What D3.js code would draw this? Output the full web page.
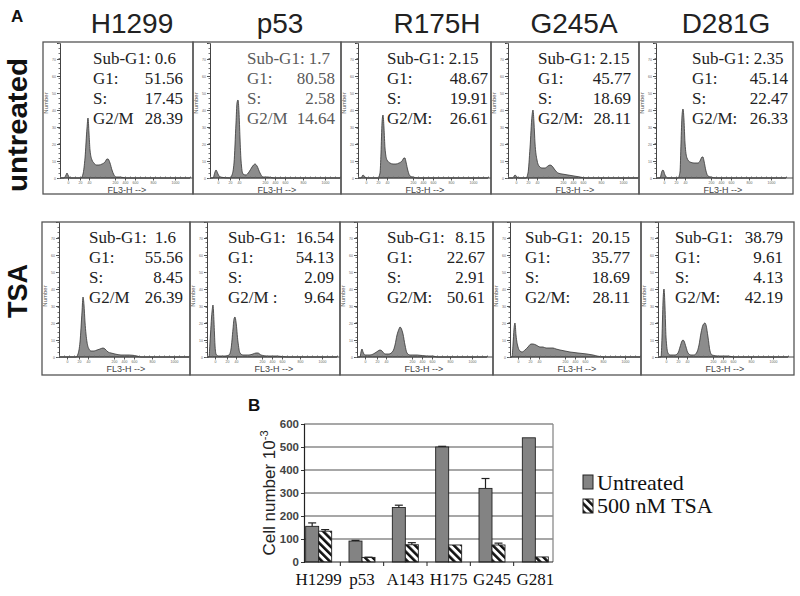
<!DOCTYPE html>
<html><head><meta charset="utf-8">
<script src="https://cdn.jsdelivr.net/npm/d3@7"></script>
<style>body{margin:0;background:#fff} svg{display:block}</style>
</head><body>
<svg id="c" width="800" height="596"></svg>
<script>
// ---------- DATA ----------
const cellLines = ["H1299","p53","R175H","G245A","D281G"];
const subG1Untreated = ["0.6","1.7","2.15","2.15","2.35"];
const g1Untreated = ["51.56","80.58","48.67","45.77","45.14"];
const sUntreated = ["17.45","2.58","19.91","18.69","22.47"];
const g2mUntreated = ["28.39","14.64","26.61","28.11","26.33"];
const g2mLabelsUntreated = ["G2/M","G2/M","G2/M:","G2/M:","G2/M:"];
const subG1TSA = ["1.6","16.54","8.15","20.15","38.79"];
const g1TSA = ["55.56","54.13","22.67","35.77","9.61"];
const sTSA = ["8.45","2.09","2.91","18.69","4.13"];
const g2mTSA = ["26.39","9.64","50.61","28.11","42.19"];
const g2mLabelsTSA = ["G2/M","G2/M :","G2/M:","G2/M:","G2/M:"];

// DNA histograms: [FL3-H channel, count]
const histH1299Untreated = [[0,0],[4,0],[6,3],[7,5],[8,3],[10,0],[21,0],[23,4],[25,20],[27,50],[28,60],[29,45],[30,28],[32,18],[34,15],[36,13],[39,13],[42,14],[45,16],[47,19],[48,19],[50,15],[52,8],[54,3],[56,1],[60,1],[66,0],[130,0]];
const histP53Untreated = [[0,0],[3,0],[5,6],[6,8],[8,4],[10,1],[20,0],[22,3],[24,15],[26,55],[27,75],[28,78],[29,66],[30,40],[31,18],[33,4],[36,3],[39,6],[42,11],[45,14],[47,12],[50,5],[53,1],[58,1],[64,0],[130,0]];
const histR175HUntreated = [[0,0],[3,0],[5,3],[7,1],[9,0],[20,0],[22,5],[23,25],[24,55],[25,63],[26,50],[27,30],[29,18],[32,15],[35,14],[38,14],[41,15],[44,17],[46,20],[47,20],[48,16],[50,7],[52,2],[55,1],[60,0],[130,0]];
const histG245AUntreated = [[0,0],[5,0],[7,3],[9,1],[11,0],[18,0],[20,5],[22,30],[24,62],[25,68],[26,55],[27,35],[29,18],[31,12],[34,10],[37,10],[40,12],[42,13],[44,12],[47,8],[50,5],[54,4],[60,3],[66,2],[72,1],[78,0],[130,0]];
const histD281GUntreated = [[0,0],[4,0],[6,7],[7,8],[9,3],[11,0],[22,0],[24,6],[25,35],[26,62],[27,69],[28,58],[29,35],[31,20],[34,16],[38,15],[42,15],[44,17],[46,21],[47,21],[48,17],[50,7],[52,2],[55,1],[60,0],[130,0]];
const histH1299TSA = [[0,0],[17,0],[19,3],[21,15],[23,45],[24,60],[25,52],[26,35],[28,15],[30,8],[32,6],[35,6],[38,7],[41,8],[44,9],[46,8],[49,5],[52,4],[56,3],[62,2],[70,2],[78,1],[82,0],[130,0]];
const histP53TSA = [[0,0],[2,0],[3,15],[5,45],[6,52],[7,35],[8,12],[9,3],[11,1],[18,1],[22,2],[24,8],[26,28],[27,38],[28,40],[29,35],[31,15],[33,4],[36,2],[42,2],[46,3],[49,4],[51,4],[54,2],[60,1],[70,1],[80,0],[130,0]];
const histR175HTSA = [[0,0],[3,0],[4,5],[5,8],[6,5],[8,2],[13,2],[18,4],[21,6],[23,7],[25,6],[28,3],[32,3],[36,6],[38,12],[40,22],[42,28],[43,30],[44,29],[46,23],[48,12],[50,4],[53,2],[60,2],[70,1],[76,1],[80,0],[130,0]];
const histG245ATSA = [[0,0],[2,0],[3,12],[4,28],[5,34],[6,22],[8,10],[10,6],[12,5],[15,7],[18,10],[21,13],[23,13],[26,12],[30,10],[33,10],[36,9],[40,9],[43,9],[46,8],[50,7],[55,6],[60,5],[68,4],[77,3],[83,2],[87,1],[95,0],[130,0]];
const histD281GTSA = [[0,0],[3,0],[4,20],[5,55],[6,68],[7,50],[8,20],[10,4],[12,2],[17,2],[20,4],[22,10],[24,16],[25,17],[26,16],[28,10],[30,4],[33,2],[36,2],[39,5],[41,12],[43,24],[45,32],[47,34],[48,32],[50,20],[52,6],[54,2],[60,1],[70,1],[76,0],[130,0]];

const histYTickVals = [0,17,34,51,68,85,102,119];
const histYTickLabels = ["0","10","20","30","40","50","60","70"];
const histXTickVals = [8,20,29,55,65,75,93,115];
const histXTickLabels = ["0","20","40","200","400","600","800","1000"];

// Panel B
const barCategories = ["H1299","p53","A143","H175","G245","G281"];
const untreatedCells = [155,91,237,500,320,540];
const untreatedErr = [15,3,10,3,43,0];
const tsaCells = [134,20,75,74,74,22];
const tsaErr = [7,1,9,0,8,0];
const yTicksB = [0,100,200,300,400,500,600];
const seriesNames = ["Untreated","500 nM TSA"];

// ---------- LAYOUT ----------
const svg = d3.select("#c");
const serif = "Liberation Serif, Times New Roman, DejaVu Serif, serif";
const sans = "Liberation Sans, Arial, sans-serif";

const rowsLayout = [
  {top:42, bottom:194, base:178, lefts:[43,193,341,491,639,793], textY:[64,84,104,124],
   labelX:[93,247,387,538,692], valueR:[183,335,488,631,788], numberY:103},
  {top:222, bottom:375, base:357, lefts:[42,190,340,493,641,794], textY:[243,263,283,303],
   labelX:[89,228,387,525,675], valueR:[183,334,485,630,783], subR:[176,334,485,630,783], numberY:296}
];
const rowsData = [
  {label:"untreated", subG1:subG1Untreated, g1:g1Untreated, s:sUntreated, g2m:g2mUntreated, g2mLab:g2mLabelsUntreated,
   hist:[histH1299Untreated,histP53Untreated,histR175HUntreated,histG245AUntreated,histD281GUntreated]},
  {label:"TSA", subG1:subG1TSA, g1:g1TSA, s:sTSA, g2m:g2mTSA, g2mLab:g2mLabelsTSA,
   hist:[histH1299TSA,histP53TSA,histR175HTSA,histG245ATSA,histD281GTSA]}
];
const titleCenters = [132,280,437,574,726];

// letters
svg.append("text").attr("x",11).attr("y",22).attr("font-family",sans).attr("font-weight","bold")
  .attr("font-size",17).attr("fill","#111").text("A");
svg.append("text").attr("x",248).attr("y",411).attr("font-family",sans).attr("font-weight","bold")
  .attr("font-size",17).attr("fill","#111").text("B");

// titles
cellLines.forEach((c,i)=>{
  svg.append("text").attr("x",titleCenters[i]).attr("y",33).attr("text-anchor","middle")
    .attr("font-family",sans).attr("font-size",28).attr("fill","#222").text(c);
});

// row labels
svg.append("text").attr("transform","translate(27,125) rotate(-90)").attr("text-anchor","middle")
  .attr("font-family",sans).attr("font-weight","bold").attr("font-size",27).attr("fill","#111")
  .attr("textLength",134).attr("lengthAdjust","spacingAndGlyphs").text(rowsData[0].label);
svg.append("text").attr("transform","translate(27,291) rotate(-90)").attr("text-anchor","middle")
  .attr("font-family",sans).attr("font-weight","bold").attr("font-size",27).attr("fill","#111").text(rowsData[1].label);

rowsData.forEach((row,ri)=>{
  const L = rowsLayout[ri];
  cellLines.forEach((cl,pi)=>{
    const left = L.lefts[pi], right = L.lefts[pi+1];
    const pl = left+17;
    const g = svg.append("g");
    const x = d3.scaleLinear().domain([0,130]).range([pl,pl+130]);
    const y = d3.scaleLinear().domain([0,135]).range([L.base,L.base-135]);
    // histogram
    const area = d3.area().x(d=>x(d[0])).y0(L.base).y1(d=>y(d[1])).curve(d3.curveMonotoneX);
    g.append("path").datum(row.hist[pi]).attr("d",area).attr("fill","#8c8c8c")
      .attr("stroke","#333").attr("stroke-width",0.8);
    // y axis
    const ya = g.append("g").attr("transform",`translate(${pl},0)`)
      .call(d3.axisLeft(y).tickValues(histYTickVals).tickSize(3).tickPadding(1).tickFormat((d,i)=>histYTickLabels[i]));
    ya.selectAll("text").attr("font-size",3.5).attr("fill","#666").attr("font-family",sans);
    ya.selectAll("line").attr("stroke","#555");
    ya.select(".domain").attr("stroke","#444");
    const ym = g.append("g").attr("transform",`translate(${pl},0)`)
      .call(d3.axisLeft(y).ticks(27).tickSize(1.5).tickFormat(""));
    ym.select(".domain").remove(); ym.selectAll("line").attr("stroke","#777");
    // x axis
    const xa = g.append("g").attr("transform",`translate(0,${L.base})`)
      .call(d3.axisBottom(x).tickValues(histXTickVals).tickSize(2.5).tickPadding(1).tickFormat((d,i)=>histXTickLabels[i]));
    xa.selectAll("text").attr("font-size",3.5).attr("fill","#666").attr("font-family",sans).attr("dy","0.6em");
    xa.selectAll("line").attr("stroke","#555");
    xa.select(".domain").remove();
    const xm = g.append("g").attr("transform",`translate(0,${L.base})`)
      .call(d3.axisTop(x).ticks(40).tickSize(1.5).tickFormat(""));
    xm.select(".domain").remove(); xm.selectAll("line").attr("stroke","#777");
    g.append("line").attr("x1",pl).attr("x2",right).attr("y1",L.base).attr("y2",L.base)
      .attr("stroke","#444").attr("stroke-width",1);
    // axis titles
    g.append("text").attr("transform",`translate(${left+5},${L.numberY}) rotate(-90)`).attr("text-anchor","middle")
      .attr("font-family",sans).attr("font-size",6).attr("fill","#555").text("Number");
    g.append("text").attr("x",left+84).attr("y",L.base+15).attr("text-anchor","middle")
      .attr("font-family",sans).attr("font-size",9).attr("fill","#444").text("FL3-H -->");
    // frame
    g.append("rect").attr("x",left).attr("y",L.top).attr("width",right-left).attr("height",L.bottom-L.top)
      .attr("fill","none").attr("stroke","#555").attr("stroke-width",1.3);
    // stats text
    const col = (ri===0 && pi===1) ? "#5a5a5a" : "#222";
    const t = (xx,yy,s,anchor)=>g.append("text").attr("x",xx).attr("y",yy).attr("text-anchor",anchor)
      .attr("font-family",serif).attr("font-size",17).attr("fill",col).text(s);
    const lx = L.labelX[pi], vr = L.valueR[pi];
    if (ri===0) {
      t(lx,L.textY[0],"Sub-G1: "+row.subG1[pi],"start");
    } else {
      t(lx,L.textY[0],"Sub-G1:","start");
      t(L.subR[pi],L.textY[0],row.subG1[pi],"end");
    }
    t(lx,L.textY[1],"G1:","start"); t(vr,L.textY[1],row.g1[pi],"end");
    t(lx,L.textY[2],"S:","start"); t(vr,L.textY[2],row.s[pi],"end");
    t(lx,L.textY[3],row.g2mLab[pi],"start"); t(vr,L.textY[3],row.g2m[pi],"end");
  });
});

// ---------- PANEL B ----------
const defs = svg.append("defs");
const pat = defs.append("pattern").attr("id","hatch").attr("patternUnits","userSpaceOnUse")
  .attr("width",5.5).attr("height",5.5).attr("patternTransform","rotate(-45)");
pat.append("rect").attr("width",5.5).attr("height",5.5).attr("fill","#fff");
pat.append("rect").attr("width",2.6).attr("height",5.5).attr("fill","#111");

const yB = d3.scaleLinear().domain([0,600]).range([562,424]);
const x0 = d3.scaleBand().domain(barCategories).range([297,557]).paddingInner(0.4).paddingOuter(0.2);
const x1 = d3.scaleBand().domain(["u","t"]).range([0,x0.bandwidth()]);
const plotL = 304, plotR = 553;

const gB = svg.append("g");
yTicksB.slice(1).forEach(v=>{
  gB.append("line").attr("x1",plotL).attr("x2",plotR).attr("y1",yB(v)).attr("y2",yB(v))
    .attr("stroke","#8a8a8a").attr("stroke-width",1.3);
});
gB.append("line").attr("x1",plotR).attr("x2",plotR).attr("y1",yB(600)).attr("y2",yB(0))
  .attr("stroke","#8a8a8a").attr("stroke-width",1.3);

const yAx = gB.append("g").attr("transform",`translate(${plotL},0)`)
  .call(d3.axisLeft(yB).tickValues(yTicksB).tickSize(3).tickPadding(2));
yAx.selectAll("text").attr("font-family",sans).attr("font-weight","bold").attr("font-size",11.5).attr("fill","#444");
yAx.selectAll("line").attr("stroke","#333");
yAx.select(".domain").attr("stroke","#222").attr("stroke-width",1.2);

// bars
barCategories.forEach((c,i)=>{
  const bx = x0(c);
  gB.append("rect").attr("x",bx+x1("u")).attr("y",yB(untreatedCells[i])).attr("width",x1.bandwidth())
    .attr("height",yB(0)-yB(untreatedCells[i])).attr("fill","#838383").attr("stroke","#222").attr("stroke-width",0.9);
  gB.append("rect").attr("x",bx+x1("t")).attr("y",yB(tsaCells[i])).attr("width",x1.bandwidth())
    .attr("height",yB(0)-yB(tsaCells[i])).attr("fill","url(#hatch)").attr("stroke","#222").attr("stroke-width",0.9);
  [[untreatedCells[i],untreatedErr[i],bx+x1("u")],[tsaCells[i],tsaErr[i],bx+x1("t")]].forEach(([v,e,xx])=>{
    if (e>0) {
      const cx = xx + x1.bandwidth()/2;
      gB.append("line").attr("x1",cx).attr("x2",cx).attr("y1",yB(v)).attr("y2",yB(v+e)).attr("stroke","#222").attr("stroke-width",1.2);
      gB.append("line").attr("x1",cx-4).attr("x2",cx+4).attr("y1",yB(v+e)).attr("y2",yB(v+e)).attr("stroke","#222").attr("stroke-width",1.2);
    }
  });
  gB.append("text").attr("x",bx+x0.bandwidth()/2).attr("y",585).attr("text-anchor","middle")
    .attr("font-family",serif).attr("font-size",17).attr("fill","#111").text(c);
  if (i>0) {
    const bxl = bx - (x0.step()-x0.bandwidth())/2;
    gB.append("line").attr("x1",bxl).attr("x2",bxl).attr("y1",yB(0)).attr("y2",yB(0)+4).attr("stroke","#222");
  }
});
gB.append("line").attr("x1",plotL).attr("x2",plotR).attr("y1",yB(0)).attr("y2",yB(0)).attr("stroke","#222").attr("stroke-width",1.2);

// y label
const yl = gB.append("text").attr("transform","translate(275,493) rotate(-90)").attr("text-anchor","middle")
  .attr("font-family",sans).attr("font-size",17).attr("fill","#222");
yl.append("tspan").text("Cell number 10");
yl.append("tspan").attr("dy",-7).attr("font-size",11).text("-3");

// legend
gB.append("rect").attr("x",583).attr("y",475).attr("width",10).attr("height",14).attr("fill","#838383").attr("stroke","#222");
gB.append("rect").attr("x",583).attr("y",499).attr("width",10).attr("height",14).attr("fill","url(#hatch)").attr("stroke","#222");
gB.append("text").attr("x",597).attr("y",490).attr("font-family",serif).attr("font-size",22).attr("fill","#111").text(seriesNames[0]);
gB.append("text").attr("x",597).attr("y",513).attr("font-family",serif).attr("font-size",22).attr("fill","#111").text(seriesNames[1]);
</script>
</body></html>
